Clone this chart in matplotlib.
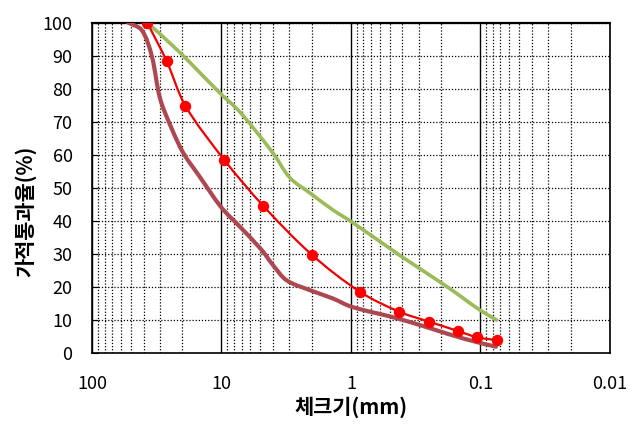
import numpy as np
import matplotlib
matplotlib.use("Agg")
import matplotlib.pyplot as plt
from matplotlib.path import Path
from matplotlib.patches import PathPatch
from matplotlib.ticker import FixedLocator, NullFormatter

plt.rcParams['font.family'] = ['Noto Sans CJK KR', 'DejaVu Sans']

# measured gradation (red, with markers)
size_meas = [37.5, 26.5, 19, 9.5, 4.75, 2.0, 0.85, 0.425, 0.25, 0.15, 0.106, 0.075]
pass_meas = [100, 88.3, 74.8, 58.4, 44.5, 29.7, 18.5, 12.5, 9.5, 6.7, 4.75, 3.9]

# upper curve (green)
size_up = [37.5, 21.7, 10.3, 7.2, 4.0, 2.96, 2.07, 1.38, 0.98, 0.40, 0.18, 0.101, 0.075]
pass_up = [100, 91.5, 78.7, 72.9, 60.5, 53, 48.4, 43.3, 39.6, 29, 20, 13, 10]

# lower curve (brown)
size_low = [52.7, 41.3, 34.6, 29.8, 24.3, 19.7, 14.7, 10, 7.2, 4.9, 4.0, 3.14,
            2.07, 1.38, 0.99, 0.44, 0.245, 0.136, 0.076]
pass_low = [100, 97.7, 90, 77, 68, 60.5, 53.3, 44, 38.2, 31.2, 26.6, 22,
            19, 16.5, 14, 10.5, 7.5, 4.4, 1.9]


def smooth_path(xs, ys):
    # smoothed line, tangents worked out in (roughly) pixel space
    p = np.column_stack([np.log10(np.asarray(xs, float)) * 129.5,
                         np.asarray(ys, float) * 3.3])
    n = len(p)
    d = np.hypot(*np.diff(p, axis=0).T)
    m = np.zeros_like(p)
    m[0] = (p[1] - p[0]) / d[0]
    m[-1] = (p[-1] - p[-2]) / d[-1]
    for i in range(1, n - 1):
        m[i] = (p[i + 1] - p[i - 1]) / (d[i - 1] + d[i])
    verts = [(xs[0], ys[0])]
    codes = [Path.MOVETO]
    for i in range(n - 1):
        c1 = p[i] + m[i] * d[i] / 3
        c2 = p[i + 1] - m[i + 1] * d[i] / 3
        for c in (c1, c2):
            verts.append((10 ** (c[0] / 129.5), c[1] / 3.3))
        verts.append((xs[i + 1], ys[i + 1]))
        codes += [Path.CURVE4] * 3
    return Path(verts, codes)


fig = plt.figure(figsize=(6.42, 4.28), dpi=100)
ax = fig.add_axes([0.1433, 0.1752, 0.8067, 0.7722])
ax.set_xscale('log')
ax.set_xlim(100, 0.01)
ax.set_ylim(0, 100)

ax.add_patch(PathPatch(smooth_path(size_low, pass_low), fill=False,
                       edgecolor='#AE4850', lw=3.0, capstyle='round', zorder=3))
ax.add_patch(PathPatch(smooth_path(size_up, pass_up), fill=False,
                       edgecolor='#9BBB59', lw=2.6, capstyle='round', zorder=3))
ax.add_patch(PathPatch(smooth_path(size_meas, pass_meas), fill=False,
                       edgecolor='#F00000', lw=1.6, zorder=4))
ax.plot(size_meas, pass_meas, 'o', color='#FF0000', ms=7.2, zorder=5)

ax.set_yticks(np.arange(0, 101, 10))
ax.xaxis.set_major_locator(FixedLocator([100, 10, 1, 0.1, 0.01]))
ax.set_xticklabels(['100', '10', '1', '0.1', '0.01'])
minors = [m * 10.0 ** e for e in range(-2, 2) for m in range(2, 10)]
ax.xaxis.set_minor_locator(FixedLocator(minors))
ax.xaxis.set_minor_formatter(NullFormatter())

ax.grid(which='major', axis='x', color='black', lw=1.0, ls='-')
ax.grid(which='minor', axis='x', color='black', lw=0.9, ls=(0, (1, 1.5)))
ax.grid(which='major', axis='y', color='black', lw=0.9, ls=(0, (1, 1.5)))

ax.tick_params(axis='y', direction='in', length=4, labelsize=13, pad=14, color='black')
ax.tick_params(axis='x', which='both', length=0, labelsize=13, pad=16)
for s in ax.spines.values():
    s.set_linewidth(1.2)
    s.set_color('black')
ax.spines['top'].set_linestyle((0, (1, 1)))
ax.spines['top'].set_linewidth(1.6)

ax.set_xlabel('체크기(mm)', fontsize=15, fontweight='bold', labelpad=2)
ax.set_ylabel('가적통과율(%)', fontsize=15, fontweight='bold')
ax.yaxis.set_label_coords(-0.108, 0.43)

fig.savefig('out.png', dpi=100)
